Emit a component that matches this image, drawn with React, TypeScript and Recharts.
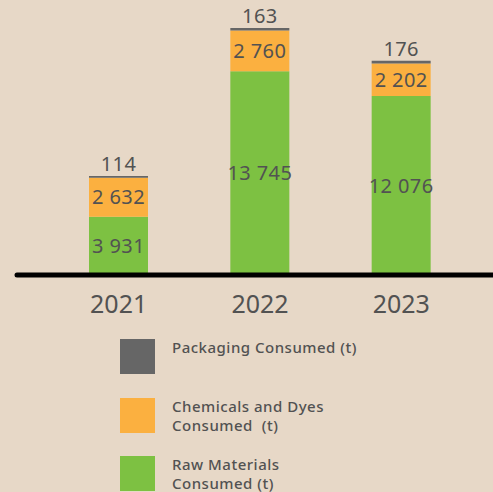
import { BarChart, Bar, XAxis, YAxis, LabelList } from "recharts";

const years = ["2021", "2022", "2023"];
const rawMaterials = [3931, 13745, 12076];
const chemicals = [2632, 2760, 2202];
const packaging = [114, 163, 176];

const series = [
  { key: "packaging", label: "Packaging Consumed (t)", color: "#666666" },
  { key: "chemicals", label: "Chemicals and Dyes\nConsumed  (t)", color: "#FBB040" },
  { key: "raw", label: "Raw Materials\nConsumed (t)", color: "#7DC142" },
];

const data = years.map((y, i) => ({
  year: y,
  raw: rawMaterials[i],
  chemicals: chemicals[i],
  packaging: packaging[i],
}));

const fmt = (v: any) => String(v).replace(/\B(?=(\d{3})+(?!\d))/g, " ");
const font = "'Noto Sans', sans-serif";
const textColor = "#525252";
const labelStyle = { fill: textColor, fontSize: 20, fontFamily: font, letterSpacing: 0.4 };

export default function App() {
  return (
    <div
      style={{
        position: "relative",
        width: 493,
        height: 492,
        background: "#E7D8C7",
        fontFamily: font,
        overflow: "hidden",
      }}
    >
      <style>{`body{margin:0;background:#E7D8C7}`}</style>
      <BarChart
        width={493}
        height={340}
        data={data}
        margin={{ top: 28, right: 0, left: 17, bottom: 0 }}
        barSize={59}
      >
        <YAxis hide domain={[0, "dataMax"]} />
        <Bar dataKey="raw" stackId="a" fill="#7DC142" isAnimationActive={false}>
          <LabelList dataKey="raw" position="center" formatter={fmt} style={labelStyle} />
        </Bar>
        <Bar dataKey="chemicals" stackId="a" fill="#FBB040" isAnimationActive={false}>
          <LabelList dataKey="chemicals" position="center" formatter={fmt} style={labelStyle} />
        </Bar>
        <Bar dataKey="packaging" stackId="a" fill="#666666" isAnimationActive={false}>
          <LabelList dataKey="packaging" position="top" offset={5} formatter={fmt} style={labelStyle} />
        </Bar>
        <XAxis
          dataKey="year"
          height={65}
          padding={{ left: 31, right: 21 }}
          axisLine={{ stroke: "#000", strokeWidth: 5, strokeLinecap: "round" }}
          tickLine={false}
          tickMargin={14}
          tick={{ fill: textColor, fontSize: 25, fontFamily: font }}
        />
      </BarChart>
      {series.map((s, i) => (
        <div
          key={s.key}
          style={{ position: "absolute", left: 120, top: 339 + i * 58.5, display: "flex" }}
        >
          <div style={{ width: 35, height: 35, background: s.color }} />
          <div
            style={{
              marginLeft: 17,
              marginTop: -1,
              fontSize: 15,
              lineHeight: "19px",
              letterSpacing: 0.5,
              color: textColor,
              whiteSpace: "pre",
              fontWeight: 500,
            }}
          >
            {s.label}
          </div>
        </div>
      ))}
    </div>
  );
}
